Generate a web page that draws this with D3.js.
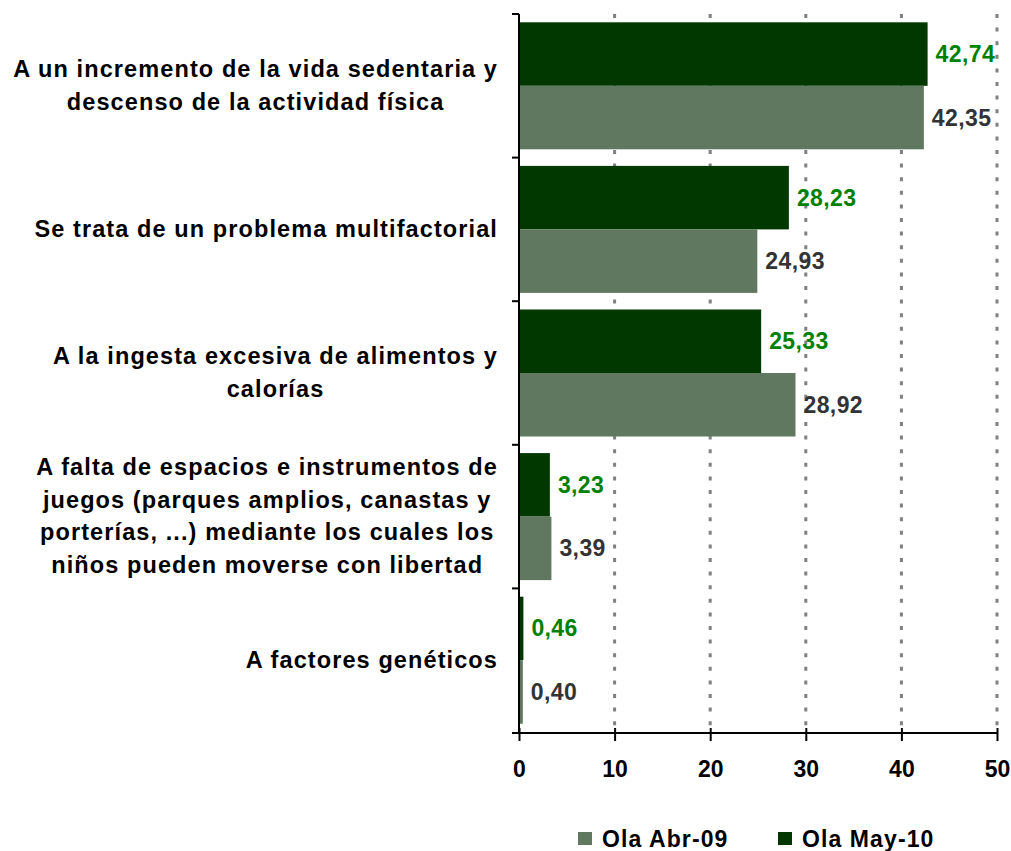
<!DOCTYPE html>
<html>
<head>
<meta charset="utf-8">
<script src="https://cdn.jsdelivr.net/npm/d3@7"></script>
<style>
  body { margin: 0; background: #fff; }
  text { font-family: "Liberation Sans", Arial, sans-serif; font-weight: bold; }
</style>
</head>
<body>
<div class="bar"></div>
<script>
// categories, top to bottom, already split in lines like the original
const categories = [
  ["A un incremento de la vida sedentaria y", "descenso de la actividad física"],
  ["Se trata de un problema multifactorial"],
  ["A la ingesta excesiva de alimentos y", "calorías"],
  ["A falta de espacios e instrumentos de", "juegos (parques amplios, canastas y", "porterías, ...) mediante los cuales los", "niños pueden moverse con libertad"],
  ["A factores genéticos"]
];
const seriesNames = ["Ola May-10", "Ola Abr-09"];
const may10 = [42.74, 28.23, 25.33, 3.23, 0.46];
const abr09 = [42.35, 24.93, 28.92, 3.39, 0.40];
const xTicks = [0, 10, 20, 30, 40, 50];
const legendOrder = ["Ola Abr-09", "Ola May-10"];

const w = 1011, h = 851;
const barColors = { "Ola May-10": "#003800", "Ola Abr-09": "#607860" };
const labelColors = { "Ola May-10": "#008000", "Ola Abr-09": "#333333" };

const svg = d3.select(".bar").append("svg").attr("width", w).attr("height", h);

const dataSet = categories.map((lines, i) => ({
  key: "c" + i,
  lines: lines,
  values: [
    { series: "Ola May-10", value: may10[i] },
    { series: "Ola Abr-09", value: abr09[i] }
  ]
}));

const xScale = d3.scaleLinear().domain([0, 50]).range([519, 997]);
const yScale = d3.scaleBand().domain(dataSet.map(d => d.key)).range([14, 732]);
const inner = d3.scaleBand().domain(seriesNames).range([8.3, yScale.bandwidth() - 8.3]);

// grid lines
svg.append("g")
  .selectAll("line")
  .data(xTicks.slice(1))
  .enter()
  .append("line")
  .attr("x1", d => xScale(d))
  .attr("x2", d => xScale(d))
  .attr("y1", 14)
  .attr("y2", 733)
  .attr("stroke", "#808080")
  .attr("stroke-width", 3)
  .attr("stroke-dasharray", "4,9.6");

// bars
const groups = svg.append("g")
  .selectAll("g")
  .data(dataSet)
  .enter()
  .append("g")
  .attr("transform", d => `translate(0,${yScale(d.key)})`);

groups.selectAll("rect")
  .data(d => d.values)
  .enter()
  .append("rect")
  .attr("x", xScale(0))
  .attr("y", d => inner(d.series))
  .attr("width", d => xScale(d.value) - xScale(0))
  .attr("height", inner.bandwidth())
  .attr("fill", d => barColors[d.series]);

groups.selectAll("text.val")
  .data(d => d.values)
  .enter()
  .append("text")
  .attr("class", "val")
  .attr("x", d => xScale(d.value) + 8)
  .attr("y", d => inner(d.series) + inner.bandwidth() / 2 + 8)
  .attr("font-size", 23)
  .attr("letter-spacing", 0.4)
  .attr("fill", d => labelColors[d.series])
  .text(d => d.value.toFixed(2).replace(".", ","));

// x axis
const xAxis = svg.append("g")
  .attr("transform", "translate(0,733)")
  .call(d3.axisBottom(xScale).tickValues(xTicks).tickSize(8).tickFormat(d => d));
xAxis.select(".domain").attr("stroke", "#000").attr("stroke-width", 2).attr("d", "M512,0H997");
xAxis.selectAll(".tick line").attr("stroke", "#000").attr("stroke-width", 2).attr("y1", -5);
xAxis.selectAll(".tick text")
  .attr("y", 44)
  .attr("dy", null)
  .attr("fill", "#000")
  .attr("font-size", 23)
  .attr("font-family", null);

// y axis line and boundary ticks
svg.append("line")
  .attr("x1", 519).attr("x2", 519)
  .attr("y1", 14).attr("y2", 733)
  .attr("stroke", "#000").attr("stroke-width", 2);
const bounds = dataSet.map(d => yScale(d.key));
svg.append("g")
  .selectAll("line")
  .data(bounds)
  .enter()
  .append("line")
  .attr("x1", 512).attr("x2", 519)
  .attr("y1", d => d).attr("y2", d => d)
  .attr("stroke", "#000").attr("stroke-width", 2);

// category labels: block right aligned, lines centred inside the block
const lineH = 32.7;
const labels = svg.append("g")
  .selectAll("g")
  .data(dataSet)
  .enter()
  .append("g");

labels.each(function(d) {
  const g = d3.select(this);
  const c = yScale(d.key) + yScale.bandwidth() / 2;
  const n = d.lines.length;
  const texts = g.selectAll("text")
    .data(d.lines)
    .enter()
    .append("text")
    .attr("font-size", 23.5)
    .attr("letter-spacing", 1.1)
    .attr("fill", "#000")
    .attr("text-anchor", "middle")
    .attr("y", (t, i) => c + (i - (n - 1) / 2) * lineH + 7.5)
    .text(t => t);
  let maxW = 0;
  texts.each(function() { maxW = Math.max(maxW, this.getComputedTextLength()); });
  texts.attr("x", 498 - maxW / 2);
});

// legend
const legend = svg.append("g")
  .selectAll("g")
  .data(legendOrder)
  .enter()
  .append("g")
  .attr("transform", (d, i) => `translate(${578 + i * 200},0)`);
legend.append("rect")
  .attr("x", 0).attr("y", 832)
  .attr("width", 14).attr("height", 13)
  .attr("fill", d => barColors[d]);
legend.append("text")
  .attr("x", 24).attr("y", 847)
  .attr("font-size", 23)
  .attr("letter-spacing", 1.1)
  .attr("fill", "#000")
  .text(d => d);
</script>
</body>
</html>
